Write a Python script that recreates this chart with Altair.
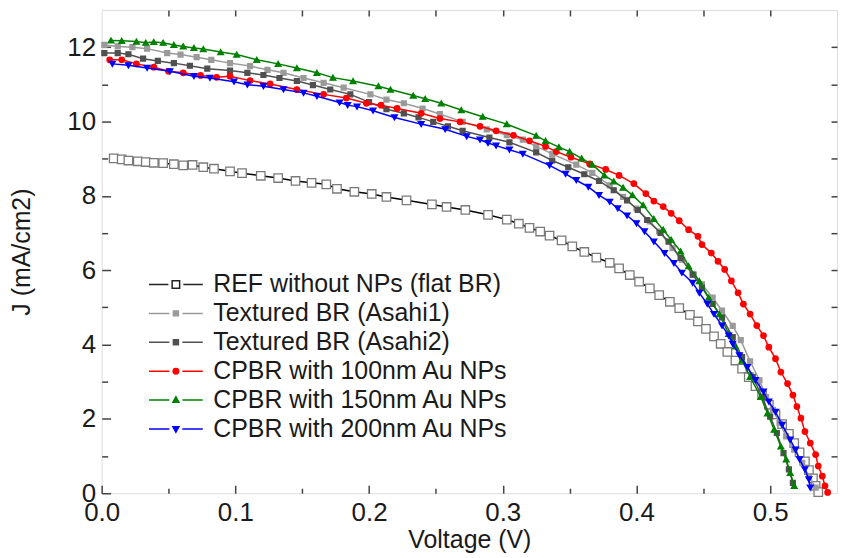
import altair as alt
import pandas as pd

FONT = "Liberation Sans"

SERIES = [
    "REF without NPs (flat BR)",
    "Textured BR (Asahi1)",
    "Textured BR (Asahi2)",
    "CPBR with 100nm Au NPs",
    "CPBR with 150nm Au NPs",
    "CPBR with 200nm Au NPs",
]

REF_V = [0.009, 0.015, 0.020, 0.027, 0.033, 0.039, 0.046, 0.054, 0.061, 0.068, 0.076, 0.084,
         0.096, 0.105, 0.119, 0.132, 0.145, 0.157, 0.168, 0.176, 0.189, 0.202, 0.213, 0.228,
         0.247, 0.258, 0.272, 0.289, 0.303, 0.312, 0.320, 0.328, 0.335, 0.344, 0.352, 0.361,
         0.370, 0.380, 0.387, 0.395, 0.402, 0.410, 0.417, 0.425, 0.432, 0.440, 0.446, 0.452,
         0.458, 0.463, 0.468, 0.474, 0.479, 0.484, 0.489, 0.494, 0.499, 0.504, 0.509, 0.514,
         0.518, 0.522, 0.526, 0.529, 0.532, 0.534, 0.536]
REF_J = [9.01, 8.98, 8.95, 8.93, 8.91, 8.89, 8.88, 8.85, 8.82, 8.83, 8.77, 8.73,
         8.66, 8.61, 8.54, 8.48, 8.40, 8.35, 8.31, 8.19, 8.11, 8.05, 7.97, 7.88,
         7.77, 7.70, 7.62, 7.49, 7.36, 7.25, 7.14, 7.04, 6.93, 6.80, 6.64, 6.49,
         6.34, 6.20, 6.05, 5.87, 5.69, 5.51, 5.33, 5.15, 4.98, 4.80, 4.62, 4.42,
         4.22, 4.02, 3.80, 3.57, 3.35, 3.12, 2.88, 2.64, 2.38, 2.12, 1.86, 1.60,
         1.35, 1.10, 0.86, 0.62, 0.40, 0.20, 0.03]

A1_V = [0.002, 0.012, 0.023, 0.034, 0.049, 0.059, 0.071, 0.082, 0.096, 0.111, 0.124, 0.136,
        0.151, 0.166, 0.181, 0.201, 0.213, 0.226, 0.240, 0.253, 0.270, 0.288, 0.303, 0.315,
        0.325, 0.337, 0.355, 0.367, 0.380, 0.390, 0.400, 0.410, 0.417, 0.427, 0.434, 0.443,
        0.449, 0.457, 0.464, 0.472, 0.478, 0.485, 0.492, 0.497, 0.502, 0.507, 0.512, 0.518,
        0.524, 0.529, 0.534]
A1_J = [12.06, 12.02, 12.00, 11.96, 11.84, 11.80, 11.73, 11.66, 11.57, 11.49, 11.39, 11.31,
        11.17, 11.04, 10.91, 10.73, 10.59, 10.49, 10.35, 10.20, 9.99, 9.79, 9.63, 9.51,
        9.33, 9.13, 8.84, 8.62, 8.28, 7.97, 7.66, 7.31, 7.04, 6.59, 6.28, 5.88,
        5.62, 5.26, 4.91, 4.50, 4.12, 3.55, 3.04, 2.59, 2.24, 1.89, 1.53, 1.17,
        0.82, 0.46, 0.15]

A2_V = [0.002, 0.012, 0.020, 0.031, 0.042, 0.054, 0.066, 0.079, 0.096, 0.109, 0.121, 0.133,
        0.146, 0.158, 0.171, 0.186, 0.200, 0.213, 0.226, 0.237, 0.248, 0.259, 0.270, 0.290,
        0.305, 0.325, 0.337, 0.349, 0.361, 0.372, 0.383, 0.393, 0.401, 0.408, 0.418, 0.424,
        0.433, 0.442, 0.449, 0.457, 0.464, 0.472, 0.479, 0.487, 0.494, 0.500, 0.505, 0.510,
        0.514, 0.517]
A2_J = [11.84, 11.84, 11.81, 11.69, 11.63, 11.57, 11.50, 11.42, 11.37, 11.31, 11.25, 11.17,
        11.09, 10.98, 10.86, 10.73, 10.52, 10.33, 10.22, 10.11, 9.99, 9.87, 9.75, 9.57,
        9.44, 9.17, 8.95, 8.77, 8.58, 8.40, 8.15, 7.88, 7.62, 7.35, 7.00, 6.77,
        6.33, 5.88, 5.53, 5.09, 4.73, 4.20, 3.66, 3.13, 2.59, 2.06, 1.62, 1.08,
        0.64, 0.28]

R_V = [0.006, 0.015, 0.026, 0.039, 0.050, 0.061, 0.074, 0.086, 0.096, 0.111, 0.126, 0.146,
       0.166, 0.183, 0.198, 0.209, 0.221, 0.239, 0.253, 0.268, 0.283, 0.295, 0.308, 0.320,
       0.332, 0.340, 0.351, 0.365, 0.377, 0.387, 0.398, 0.407, 0.413, 0.420, 0.426, 0.432,
       0.439, 0.446, 0.449, 0.456, 0.461, 0.466, 0.471, 0.476, 0.480, 0.485, 0.490, 0.495,
       0.499, 0.504, 0.508, 0.513, 0.517, 0.520, 0.523, 0.526, 0.530, 0.534, 0.536, 0.539,
       0.541, 0.543]
R_J = [11.66, 11.66, 11.55, 11.46, 11.35, 11.31, 11.24, 11.19, 11.22, 11.10, 11.01, 10.86,
       10.73, 10.63, 10.49, 10.44, 10.35, 10.22, 10.08, 9.99, 9.87, 9.75, 9.63, 9.48,
       9.33, 9.19, 9.04, 8.86, 8.71, 8.55, 8.33, 8.06, 7.86, 7.71, 7.53, 7.33,
       7.09, 6.91, 6.69, 6.46, 6.24, 6.02, 5.71, 5.39, 5.09, 4.82, 4.51, 4.24,
       3.93, 3.62, 3.26, 2.95, 2.64, 2.33, 2.02, 1.66, 1.35, 1.04, 0.73, 0.46,
       0.20, 0.02]

G_V = [0.007, 0.015, 0.026, 0.033, 0.039, 0.046, 0.054, 0.061, 0.069, 0.076, 0.089, 0.101,
       0.116, 0.132, 0.146, 0.161, 0.173, 0.188, 0.207, 0.216, 0.233, 0.242, 0.254, 0.269,
       0.285, 0.303, 0.325, 0.332, 0.342, 0.350, 0.359, 0.367, 0.376, 0.383, 0.390, 0.397,
       0.405, 0.413, 0.420, 0.426, 0.433, 0.439, 0.447, 0.454, 0.462, 0.469, 0.474, 0.479,
       0.485, 0.493, 0.498, 0.503, 0.508, 0.512, 0.515, 0.518]
G_J = [12.18, 12.17, 12.15, 12.12, 12.14, 12.12, 12.06, 12.02, 11.98, 11.95, 11.87, 11.80,
       11.66, 11.55, 11.44, 11.31, 11.18, 11.09, 10.95, 10.86, 10.70, 10.61, 10.49, 10.31,
       10.13, 9.93, 9.62, 9.48, 9.31, 9.19, 9.01, 8.84, 8.55, 8.39, 8.22, 8.02,
       7.75, 7.38, 7.09, 6.82, 6.51, 6.11, 5.71, 5.26, 4.82, 4.29, 3.95, 3.57,
       3.13, 2.59, 2.15, 1.71, 1.26, 0.91, 0.55, 0.20]

B_V = [0.008, 0.020, 0.034, 0.051, 0.069, 0.081, 0.099, 0.109, 0.121, 0.136, 0.151, 0.161,
       0.178, 0.184, 0.191, 0.203, 0.219, 0.239, 0.257, 0.273, 0.283, 0.289, 0.295, 0.305,
       0.315, 0.335, 0.347, 0.355, 0.364, 0.372, 0.380, 0.386, 0.393, 0.400, 0.406, 0.413,
       0.421, 0.428, 0.434, 0.442, 0.447, 0.453, 0.458, 0.464, 0.469, 0.472, 0.477, 0.483,
       0.489, 0.495, 0.499, 0.504, 0.509, 0.515, 0.519, 0.522, 0.526, 0.529, 0.530]
B_J = [11.55, 11.51, 11.44, 11.35, 11.22, 11.17, 11.07, 10.99, 10.95, 10.86, 10.77, 10.68,
       10.51, 10.44, 10.40, 10.29, 10.11, 9.93, 9.79, 9.60, 9.51, 9.42, 9.35, 9.24,
       9.13, 8.82, 8.59, 8.42, 8.24, 8.02, 7.84, 7.66, 7.47, 7.26, 7.04, 6.77,
       6.46, 6.19, 5.93, 5.66, 5.39, 5.09, 4.82, 4.51, 4.24, 4.02, 3.71, 3.39,
       3.04, 2.73, 2.46, 2.19, 1.84, 1.44, 1.17, 0.91, 0.64, 0.37, 0.15]

X_TICKS = [0.0, 0.1, 0.2, 0.3, 0.4, 0.5]
X_MINOR = [0.05, 0.15, 0.25, 0.35, 0.45]
X_TOP = [0.05, 0.10, 0.15, 0.20, 0.25, 0.30, 0.35, 0.40, 0.45, 0.50]
Y_TICKS = [0, 2, 4, 6, 8, 10, 12]
Y_MINOR = [1, 3, 5, 7, 9, 11]
Y_RIGHT = [1, 2, 3, 4, 5, 6, 7, 8, 9, 10, 11, 12]

LINE_COLORS = ["#000000", "#9a9a9a", "#505050", "#ff0000", "#008000", "#0000ff"]
MARK_STROKE = ["#7a7a7a", "#9a9a9a", "#505050", "#ff0000", "#008000", "#0000ff"]
MARK_FILL = ["#ffffff", "#9a9a9a", "#505050", "#ff0000", "#008000", "#0000ff"]
MARK_SHAPES = ["square", "square", "square", "circle", "triangle-up", "triangle-down"]
MARK_SIZES = [72, 24, 24, 30, 34, 34]
LEG_STROKE = ["#222222", "#9a9a9a", "#505050", "#ff0000", "#008000", "#0000ff"]
LEG_FILL = ["#ffffff", "#9a9a9a", "#505050", "#ff0000", "#008000", "#0000ff"]
LEG_PATHS = [
    "M-5.4,0H-1.5M1.5,0H5.4M-0.75,-0.75H0.75V0.75H-0.75Z",
    "M-5.4,0H-1.3M1.3,0H5.4M-0.5,-0.5H0.5V0.5H-0.5Z",
    "M-5.4,0H-1.3M1.3,0H5.4M-0.5,-0.5H0.5V0.5H-0.5Z",
    "M-5.4,0H-1.3M1.3,0H5.4M0.55,0A0.55,0.55 0 1,1 -0.55,0A0.55,0.55 0 1,1 0.55,0Z",
    "M-5.4,0H-1.3M1.3,0H5.4M0,-0.65L0.6,0.45H-0.6Z",
    "M-5.4,0H-1.3M1.3,0H5.4M0,0.65L0.6,-0.45H-0.6Z",
]

ALL_V = [REF_V, A1_V, A2_V, R_V, G_V, B_V]
ALL_J = [REF_J, A1_J, A2_J, R_J, G_J, B_J]

frames = []
for name, vv, jj in zip(SERIES, ALL_V, ALL_J):
    frames.append(pd.DataFrame({"V": vv, "J": jj, "series": name}))
df = pd.concat(frames, ignore_index=True)

xs = alt.Scale(domain=[0, 0.55], nice=False, zero=False)
ys = alt.Scale(domain=[0, 13], nice=False, zero=False)
TXT = "#1a1a1a"
TICK = "#444444"

x_major = alt.Axis(orient="bottom", values=X_TICKS, format=".1f", tickSize=8, offset=-8,
                   domain=False, grid=False, labelFontSize=26, labelFont=FONT, labelColor=TXT,
                   labelPadding=6, labelFlush=False, tickColor=TICK, tickWidth=1.5,
                   title="Voltage (V)", titleFont=FONT, titleFontSize=25,
                   titleFontWeight="normal", titleColor=TXT, titlePadding=2)
y_major = alt.Axis(orient="left", values=Y_TICKS, format="d", tickSize=9, offset=-9,
                   domain=False, grid=False, labelFontSize=26, labelFont=FONT, labelColor=TXT,
                   labelPadding=6, labelFlush=False, tickColor=TICK, tickWidth=1.5,
                   title="J (mA/cm2)", titleFont=FONT, titleFontSize=25,
                   titleFontWeight="normal", titleColor=TXT, titlePadding=33)


def minor_axis(orient, values, size):
    return alt.Axis(orient=orient, values=values, tickSize=size, offset=-size, domain=False,
                    grid=False, labels=False, title=None, tickColor=TICK, tickWidth=1.5)


series_layers = []
for i, name in enumerate(SERIES):
    base = alt.Chart(df).transform_filter(alt.datum.series == name)
    enc = dict(x=alt.X("V:Q", scale=xs, axis=x_major), y=alt.Y("J:Q", scale=ys, axis=y_major))
    line = base.mark_line(color=LINE_COLORS[i], strokeWidth=1.5).encode(**enc)
    pts = base.mark_point(shape=MARK_SHAPES[i], size=MARK_SIZES[i], filled=True,
                          fill=MARK_FILL[i], stroke=MARK_STROKE[i], strokeWidth=1.3,
                          opacity=1).encode(**enc)
    series_layers.append(line)
    series_layers.append(pts)

data_layer = alt.layer(*series_layers)

leg = alt.Legend(orient="none", legendX=62, legendY=263, title=None, padding=0,
                 labelFont=FONT, labelFontSize=25, labelColor=TXT, labelOffset=25,
                 symbolSize=100, symbolStrokeWidth=1.5, rowPadding=3, labelLimit=500)
legend_layer = alt.Chart(df).transform_filter(alt.datum.J > 100).mark_point(
    strokeWidth=1.5, opacity=1).encode(
    x=alt.X("V:Q", scale=xs, axis=None),
    y=alt.Y("J:Q", scale=ys, axis=None),
    shape=alt.Shape("series:N", scale=alt.Scale(domain=SERIES, range=LEG_PATHS), legend=leg),
    stroke=alt.Stroke("series:N", scale=alt.Scale(domain=SERIES, range=LEG_STROKE), legend=leg),
    fill=alt.Fill("series:N", scale=alt.Scale(domain=SERIES, range=LEG_FILL), legend=leg),
)

minor_layer = alt.Chart(df).transform_filter(alt.datum.J > 100).mark_point().encode(
    x=alt.X("V:Q", scale=xs, axis=minor_axis("bottom", X_MINOR, 5)),
    y=alt.Y("J:Q", scale=ys, axis=minor_axis("left", Y_MINOR, 6)),
)
mirror_layer = alt.Chart(df).transform_filter(alt.datum.J > 100).mark_point().encode(
    x=alt.X("V:Q", scale=xs, axis=minor_axis("top", X_TOP, 6)),
    y=alt.Y("J:Q", scale=ys, axis=minor_axis("right", Y_RIGHT, 6)),
)

chart = alt.layer(data_layer, legend_layer, minor_layer, mirror_layer).resolve_axis(
    x="independent", y="independent"
).resolve_scale(shape="independent", fill="independent", stroke="independent").properties(
    width=738, height=485,
    padding={"left": 1, "top": 0, "right": 0, "bottom": 0},
).configure_view(stroke="#444444", strokeWidth=2).configure(background="white")

chart.save("out.html", embed_options={"renderer": "svg", "actions": False})
